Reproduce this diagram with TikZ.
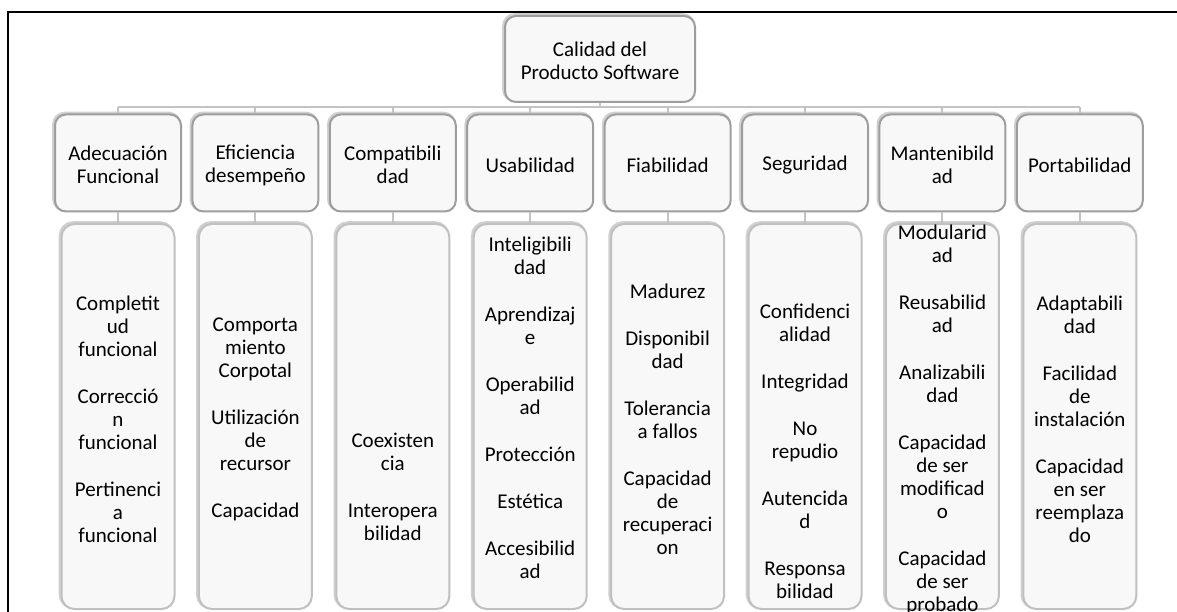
\documentclass[tikz,border=0pt]{standalone}
\usepackage{fontspec}
\setmainfont{Carlito}
\definecolor{panel}{RGB}{248,248,248}
\definecolor{rimdark}{RGB}{158,158,158}
\definecolor{rimlight}{RGB}{208,208,208}
\definecolor{childrim}{RGB}{192,192,192}
\definecolor{wire}{RGB}{195,195,195}
\newcommand\boxfont{\fontsize{21}{23}\selectfont}
\newcommand\gap{\\[24pt]}
\tikzset{
  card/.style={rounded corners=11pt, fill=panel, draw=rimdark, line width=2pt, inner sep=0pt,
    preaction={draw=rimlight, line width=3pt, transform canvas={xshift=-1.3pt, yshift=1.3pt}}},
  topcard/.style={card, minimum width=190pt, minimum height=86pt},
  headcard/.style={card, minimum width=126pt, minimum height=97pt},
  subcard/.style={card, draw=childrim, rounded corners=13pt, minimum width=113pt, minimum height=385pt},
  txt/.style={align=center, font=\boxfont, inner sep=0pt},
  wireline/.style={draw=wire, line width=2pt},
  frame/.style={draw=black, line width=2pt}
}
\begin{document}
\begin{tikzpicture}[x=1pt, y=-1pt]
\useasboundingbox (0,0) rectangle (1177,612);
\fill[white] (0,0) rectangle (1177,612);
\draw[frame] (8,612) -- (8,12) -- (1177,12);

% root
\node[topcard] (root) at (600,59) {};
\node[txt] (rootT) at (600,61) {Calidad del\\Producto Software};

% second level
\node[headcard] (h1) at (118,163) {};
\node[headcard] (h2) at (255.4,163) {};
\node[headcard] (h3) at (392.8,163) {};
\node[headcard] (h4) at (530.2,163) {};
\node[headcard] (h5) at (667.6,163) {};
\node[headcard] (h6) at (805,163) {};
\node[headcard] (h7) at (942.4,163) {};
\node[headcard] (h8) at (1079.8,163) {};

\node[txt] (h1T) at (118,165) {Adecuación\\Funcional};
\node[txt] (h2T) at (255.4,165) {Eficiencia\\desempeño};
\node[txt] (h3T) at (392.8,165) {Compatibili\\dad};
\node[txt] (h4T) at (530.2,165) {Usabilidad};
\node[txt] (h5T) at (667.6,165) {Fiabilidad};
\node[txt] (h6T) at (805,165) {Seguridad};
\node[txt] (h7T) at (942.4,165) {Mantenibild\\ad};
\node[txt] (h8T) at (1079.8,165) {Portabilidad};

% third level
\node[subcard] (c1) at (118,416.5) {};
\node[subcard] (c2) at (255.4,416.5) {};
\node[subcard] (c3) at (392.8,416.5) {};
\node[subcard] (c4) at (530.2,416.5) {};
\node[subcard] (c5) at (667.6,416.5) {};
\node[subcard] (c6) at (805,416.5) {};
\node[subcard] (c7) at (942.4,416.5) {};
\node[subcard] (c8) at (1079.8,416.5) {};

\node[txt] (c1T) at (118,419) {Completit\\ud\\funcional\gap Correcció\\n\\funcional\gap Pertinenci\\a\\funcional};
\node[txt] (c2T) at (255.4,419) {Comporta\\miento\\Corpotal\gap Utilización\\de\\recursor\gap Capacidad};
\node[txt] (c3T) at (392.8,487) {Coexisten\\cia\gap Interopera\\bilidad};
\node[txt] (c4T) at (530.2,407.5) {Inteligibili\\dad\gap Aprendizaj\\e\gap Operabilid\\ad\gap Protección\gap Estética\gap Accesibilid\\ad};
\node[txt] (c5T) at (667.6,419) {Madurez\gap Disponibil\\dad\gap Tolerancia\\a fallos\gap Capacidad\\de\\recuperaci\\on};
\node[txt] (c6T) at (805,451) {Confidenci\\alidad\gap Integridad\gap No\\repudio\gap Autencida\\d\gap Responsa\\bilidad};
\node[txt] (c7T) at (942.4,419.5) {Modularid\\ad\gap Reusabilid\\ad\gap Analizabili\\dad\gap Capacidad\\de ser\\modificad\\o\gap Capacidad\\de ser\\probado};
\node[txt] (c8T) at (1079.8,419.5) {Adaptabili\\dad\gap Facilidad\\de\\instalación\gap Capacidad\\en ser\\reemplaza\\do};

% connectors
\coordinate (bus) at (0,107);
\draw[wireline] (root.south) -- (root.south |- bus);
\draw[wireline] (h1.north |- bus) -- (h8.north |- bus);
\foreach \i in {1,...,8} {
  \draw[wireline] (h\i.north |- bus) -- (h\i.north);
  \draw[wireline] (h\i.south) -- (c\i.north);
}
\end{tikzpicture}
\end{document}
